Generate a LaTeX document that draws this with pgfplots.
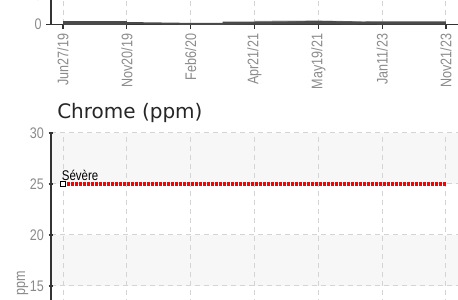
\documentclass[border=0pt]{standalone}
\usepackage{pgfplots}
\pgfplotsset{compat=1.18}
\usepackage{fontspec}
\setmainfont{Liberation Sans}
\newfontfamily\cond[FakeStretch=0.82]{Liberation Sans}
\newfontfamily\titlefont{DejaVu Sans}
\definecolor{axgray}{HTML}{333333}
\definecolor{lblgray}{HTML}{8A8A8A}
\definecolor{gridgray}{HTML}{D4D4D4}
\definecolor{bandgray}{HTML}{F7F7F7}
\definecolor{linedark}{HTML}{4A4A4A}
\definecolor{linelight}{HTML}{A0A0A0}
\definecolor{sevred}{HTML}{FF0000}
\pgfplotsset{
  geom/.style={
    overlay,
    scale only axis,
    width=305.25pt,
    xmin=-0.188, xmax=6.188,
    ymin=0, ymax=30,
  },
  chartbase/.style={
    geom,
    xtick={0,1,2,3,4,5,6},
    ytick={0,5,...,30},
    axis x line*=bottom,
    axis y line*=left,
    axis line style={draw=axgray, line width=0.9pt},
    tick style={draw=axgray, line width=0.8pt},
    major tick length=3.5pt,
    grid=major,
    major grid style={draw=gridgray, line width=0.75pt, dash pattern=on 3.75pt off 3pt},
    /pgf/number format/assume math mode=true,
    yticklabel style={font=\cond\fontsize{11.5}{12}\selectfont, text=lblgray},
    xticklabel style={font=\cond\fontsize{11.5}{12}\selectfont, text=lblgray, rotate=90, anchor=east},
  }
}
\begin{document}
\begin{tikzpicture}
\useasboundingbox (0,0) rectangle (343.5pt,225pt);
\begin{scope}
\clip (0,0) rectangle (343.5pt,225pt);
% ---------- upper chart (bottom part visible) ----------
\begin{axis}[chartbase,
  at={(38.25pt,206.625pt)}, anchor=south west,
  height=132.75pt,
  tick align=outside,
  xticklabels={Jun27/19,Nov20/19,Feb6/20,Apr21/21,May19/21,Jan11/23,Nov21/23},
]
\addplot[linelight, line width=1.0pt] coordinates {(3,0.5)(4,0.58)(4.5,0.45)(5,0.15)};
\addplot[linedark, line width=2.8pt] coordinates {(0,0.3)(1,0.3)};
\addplot[linedark, line width=1.5pt] coordinates {(0,0.25)(1,0.25)(2,0.1)(2.5,0.12)(3,0.25)(4,0.42)(4.5,0.35)(5,0.2)(6,0.2)};
\addplot[linedark, line width=2.2pt] coordinates {(2.5,0.22)(3,0.24)(4,0.27)(4.5,0.24)(5,0.28)(6,0.28)};
\end{axis}
% ---------- Chrome chart: background bands ----------
\begin{axis}[geom,
  at={(38.25pt,-104.25pt)}, anchor=south west,
  height=229.5pt,
  hide axis,
]
\addplot[draw=none, fill=bandgray] coordinates {(-0.188,25)(6.188,25)(6.188,30)(-0.188,30)} -- cycle;
\addplot[draw=none, fill=bandgray] coordinates {(-0.188,15)(6.188,15)(6.188,20)(-0.188,20)} -- cycle;
\addplot[draw=none, fill=bandgray] coordinates {(-0.188,5)(6.188,5)(6.188,10)(-0.188,10)} -- cycle;
\end{axis}
% ---------- Chrome chart ----------
\begin{axis}[chartbase,
  at={(38.25pt,-104.25pt)}, anchor=south west,
  height=229.5pt,
  tick align=center,
  xticklabels={},
]
\addplot[sevred, line width=2.3pt, dash pattern=on 2.4pt off 0.6pt] coordinates {(0,25)(6,25)};
\addplot[black, line width=0.8pt, mark=square*, mark size=2pt, mark options={fill=white}, only marks] coordinates {(0,25)};
\node[anchor=south west, inner sep=0pt, font=\cond\fontsize{10.5}{11}\selectfont, text=black] at (axis cs:0,25) [yshift=2.6pt, xshift=-1pt] {Sévère};
\end{axis}
\node[anchor=west, inner sep=0pt, font=\titlefont\fontsize{15}{16}\selectfont, text=black!85] at (42.75pt,140.25pt) {Chrome (ppm)};
\node[rotate=90, anchor=center, inner sep=0pt, font=\cond\fontsize{11.5}{12}\selectfont, text=lblgray] at (16.9pt,12.6pt) {ppm};
\end{scope}
\end{tikzpicture}
\end{document}
